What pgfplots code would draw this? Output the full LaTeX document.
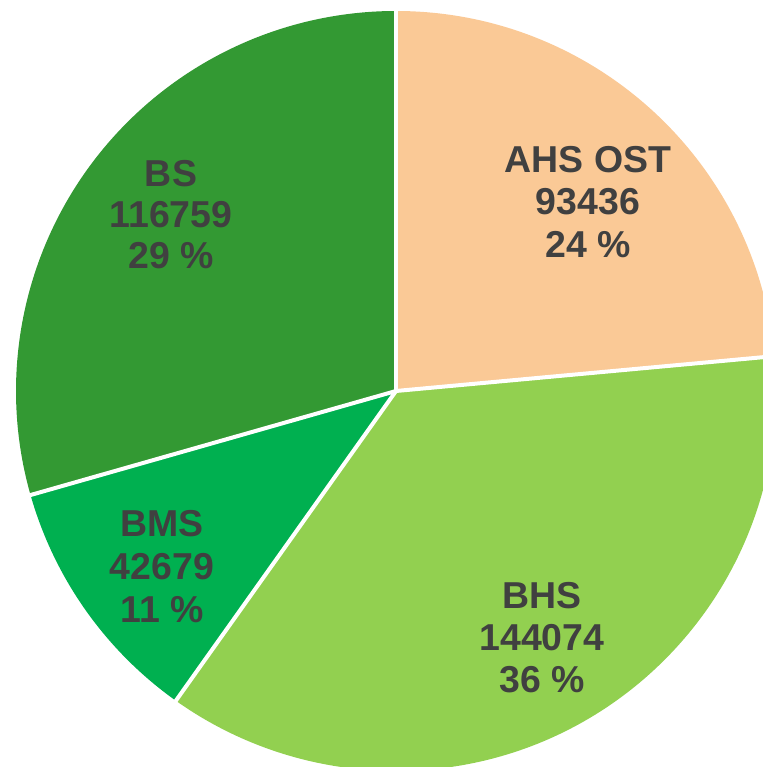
\documentclass[border=0pt]{standalone}
\usepackage{pgfplots}
\pgfplotsset{compat=1.18}
\usepackage{fontspec}
\setmainfont{Liberation Sans}

\definecolor{cAHS}{RGB}{250,201,150}
\definecolor{cBHS}{RGB}{146,208,80}
\definecolor{cBMS}{RGB}{0,176,80}
\definecolor{cBS}{RGB}{51,153,51}
\definecolor{labeltext}{RGB}{64,64,64}

% slice values
\def\vA{93436}  % AHS OST
\def\vB{144074} % BHS
\def\vC{42679}  % BMS
\def\vD{116759} % BS

\edef\tot{\fpeval{\vA+\vB+\vC+\vD}}
\edef\aA{90}
\edef\aB{\fpeval{90-360*\vA/\tot}}
\edef\aC{\fpeval{90-360*(\vA+\vB)/\tot}}
\edef\aD{\fpeval{90-360*(\vA+\vB+\vC)/\tot}}
\edef\aE{-270}

\def\cx{396}
\def\cy{376}
\def\rr{380bp}

\tikzset{lbl/.style={font=\fontsize{37.6}{42}\selectfont\bfseries, text=labeltext, anchor=base, inner sep=0pt}}

\begin{document}
\begin{tikzpicture}
\path[use as bounding box] (0,0) rectangle (763bp,767bp);
\begin{axis}[
    hide axis,
    scale only axis,
    width=763bp, height=767bp,
    xmin=0, xmax=763, ymin=0, ymax=767,
    clip=true,
]
\fill[cAHS] (axis cs:\cx,\cy) -- ++(\aA:\rr) arc[start angle=\aA, end angle=\aB, radius=\rr] -- cycle;
\fill[cBHS] (axis cs:\cx,\cy) -- ++(\aB:\rr) arc[start angle=\aB, end angle=\aC, radius=\rr] -- cycle;
\fill[cBMS] (axis cs:\cx,\cy) -- ++(\aC:\rr) arc[start angle=\aC, end angle=\aD, radius=\rr] -- cycle;
\fill[cBS]  (axis cs:\cx,\cy) -- ++(\aD:\rr) arc[start angle=\aD, end angle=\aE, radius=\rr] -- cycle;
\draw[white, line width=4bp] (axis cs:\cx,\cy) -- ++(\aA:\rr+5bp);
\draw[white, line width=4bp] (axis cs:\cx,\cy) -- ++(\aB:\rr+5bp);
\draw[white, line width=4bp] (axis cs:\cx,\cy) -- ++(\aC:\rr+5bp);
\draw[white, line width=4bp] (axis cs:\cx,\cy) -- ++(\aD:\rr+5bp);

\node[lbl] at (axis cs:588,594) {AHS OST};
\node[lbl] at (axis cs:588,552) {93436};
\node[lbl] at (axis cs:588,509) {24 \%};

\node[lbl] at (axis cs:171,580) {BS};
\node[lbl] at (axis cs:171,539) {116759};
\node[lbl] at (axis cs:171,498) {29 \%};

\node[lbl] at (axis cs:162,230) {BMS};
\node[lbl] at (axis cs:162,187) {42679};
\node[lbl] at (axis cs:162,144) {11 \%};

\node[lbl] at (axis cs:542,158) {BHS};
\node[lbl] at (axis cs:542,116) {144074};
\node[lbl] at (axis cs:542,74) {36 \%};
\end{axis}
\end{tikzpicture}
\end{document}
